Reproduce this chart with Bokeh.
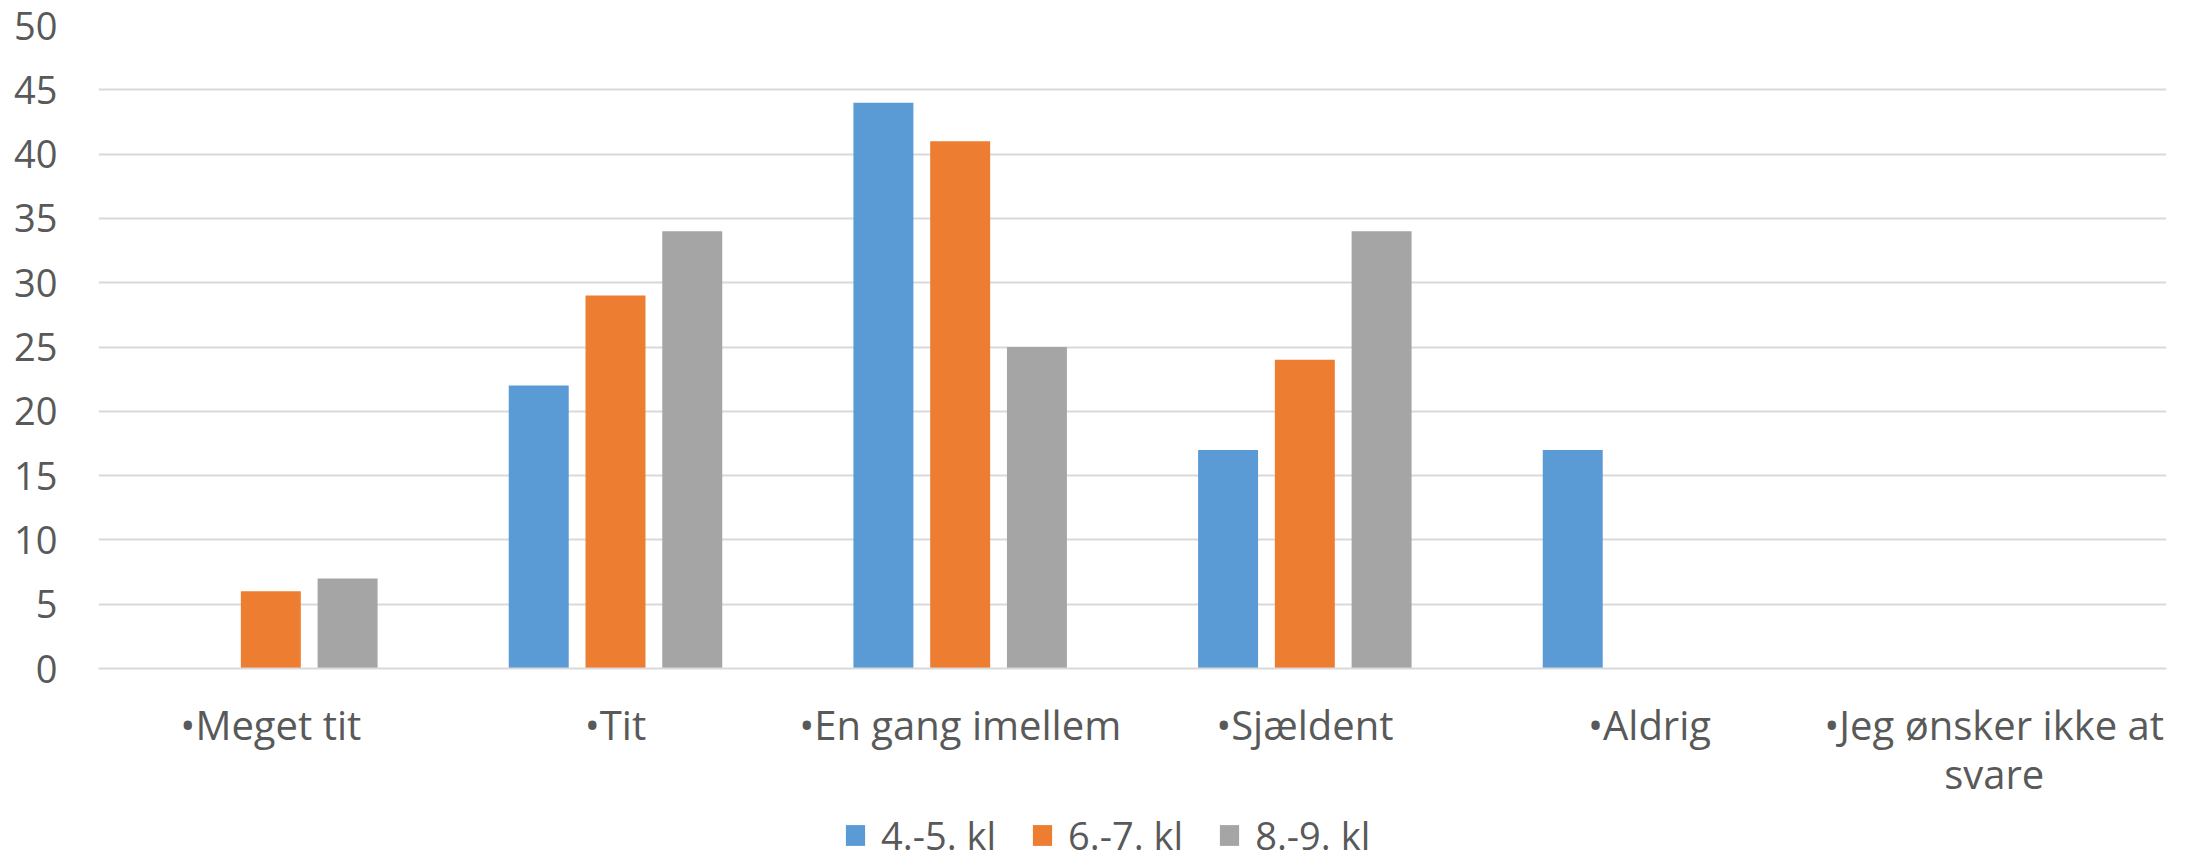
from bokeh.plotting import figure
from bokeh.layouts import column
from bokeh.models import ColumnDataSource, Range1d, FixedTicker, Legend, LegendItem
from bokeh.embed import file_html
from bokeh.resources import INLINE

categories = ["•Meget tit", "•Tit", "•En gang imellem", "•Sjældent", "•Aldrig", "•Jeg ønsker ikke at\nsvare"]
series_names = ["4.-5. kl", "6.-7. kl", "8.-9. kl"]
s45 = [0, 22, 44, 17, 17, 0]
s67 = [6, 29, 41, 24, 0, 0]
s89 = [7, 34, 25, 34, 0, 0]
colors = ["#5B9BD5", "#ED7D31", "#A5A5A5"]
y_ticks = [0, 5, 10, 15, 20, 25, 30, 35, 40, 45, 50]

FONT = "Open Sans"
TXT = "#595959"

p = figure(width=2172, height=805, output_backend="svg", toolbar_location=None,
           x_range=Range1d(-0.5, len(categories) - 0.5), y_range=Range1d(0, 50),
           min_border_left=98, min_border_right=6, min_border_top=25, min_border_bottom=137)
p.outline_line_color = None
p.background_fill_color = "white"
p.border_fill_color = "white"

offsets = [-0.2227, 0.0, 0.2227]
for vals, off, col in zip([s45, s67, s89], offsets, colors):
    src = ColumnDataSource(dict(x=[i + off for i in range(len(categories))], top=vals))
    p.vbar(x="x", top="top", bottom=0, width=0.174, source=src, fill_color=col, line_color=None)

p.xgrid.grid_line_color = None
p.ygrid.grid_line_color = "#D9D9D9"
p.ygrid.grid_line_width = 2
p.yaxis.ticker = FixedTicker(ticks=y_ticks)
p.xaxis.ticker = FixedTicker(ticks=list(range(len(categories))))
p.xaxis.major_label_overrides = {i: c for i, c in enumerate(categories)}

for ax in [p.xaxis[0], p.yaxis[0]]:
    ax.major_tick_line_color = None
    ax.minor_tick_line_color = None
    ax.major_label_text_font = FONT
    ax.major_label_text_color = TXT
p.yaxis.major_label_text_font_size = "38px"
p.xaxis.major_label_text_font_size = "40px"
p.yaxis.axis_line_color = None
p.yaxis.major_label_standoff = 35
p.xaxis.axis_line_color = "#D9D9D9"
p.xaxis.axis_line_width = 2
p.xaxis.major_label_standoff = 22
p.xaxis.major_label_text_line_height = 0.9

# legend strip below the chart (its swatches come from zero-height stand-in bars)
pl = figure(width=2172, height=58, output_backend="svg", toolbar_location=None,
            x_axis_type=None, y_axis_type=None, x_range=Range1d(0, 1), y_range=Range1d(0, 1),
            min_border_left=0, min_border_right=0, min_border_top=0, min_border_bottom=0)
pl.outline_line_color = None
pl.grid.grid_line_color = None
pl.background_fill_color = "white"
pl.border_fill_color = "white"
leg_renderers = [pl.vbar(x=[0.5], top=[0], bottom=0, width=0.01, fill_color=c, line_color=None)
                 for c in colors]
legend = Legend(items=[LegendItem(label=n, renderers=[r]) for n, r in zip(series_names, leg_renderers)],
                orientation="horizontal", location=(745, 2),
                label_text_font=FONT, label_text_font_size="38px", label_text_color=TXT,
                glyph_width=24, glyph_height=26, label_standoff=14, spacing=34,
                border_line_color=None, background_fill_alpha=0, padding=0, margin=0)
pl.add_layout(legend)

layout = column(p, pl, spacing=0)
open("out.html", "w").write(file_html(layout, INLINE))
